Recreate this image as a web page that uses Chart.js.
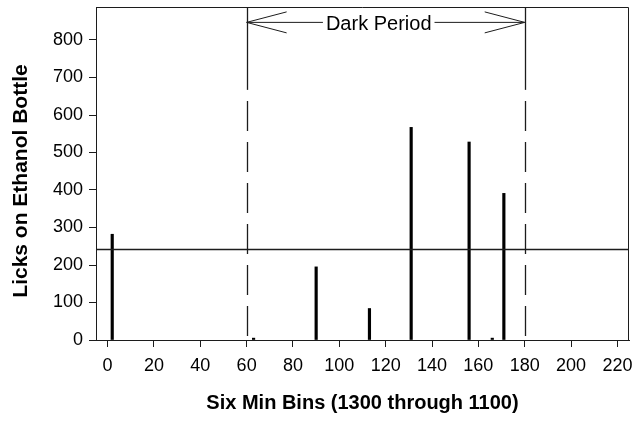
<!DOCTYPE html>
<html>
<head>
<meta charset="utf-8">
<script src="https://cdn.jsdelivr.net/npm/chart.js@4.4.1/dist/chart.umd.min.js"></script>
<style>
  html, body { margin: 0; padding: 0; background: #fff; }
  canvas { display: block; }
</style>
</head>
<body>
<canvas id="licks" width="643" height="423"></canvas>
<script>
// bins with ethanol licks; every other bin is zero
const bins = [2, 63, 90, 113, 131, 156, 166, 171];
const licks = [282, 5, 195, 84, 567, 528, 5, 391];

const xTicks = [0, 20, 40, 60, 80, 100, 120, 140, 160, 180, 200, 220];
const yTicks = [0, 100, 200, 300, 400, 500, 600, 700, 800];

// lights-off window and criterion line
const darkStart = 60;
const darkEnd = 180;
const criterion = 242;
const arrowLevel = 847;   // height of the "Dark Period" arrow
const solidTo = 667;      // boundary lines are solid above this, dashed below
const labelAt = 117;      // centre of the "Dark Period" text

const FONT = "'Liberation Sans', Arial, Helvetica, sans-serif";
const INK = '#1c1c1c';

const overlay = {
  id: 'overlay',
  afterDatasetsDraw(chart) {
    const { ctx, chartArea: a, scales: { x, y } } = chart;
    ctx.save();
    ctx.strokeStyle = INK;
    ctx.lineWidth = 1;

    // top and right edges of the frame
    ctx.beginPath();
    ctx.moveTo(a.left, a.top + 0.5);
    ctx.lineTo(a.right - 0.5, a.top + 0.5);
    ctx.lineTo(a.right - 0.5, a.bottom);
    ctx.stroke();

    // criterion line
    const yc = Math.round(y.getPixelForValue(criterion)) + 0.5;
    ctx.lineWidth = 1.3;
    ctx.beginPath();
    ctx.moveTo(a.left, yc);
    ctx.lineTo(a.right, yc);
    ctx.stroke();

    // dark period boundaries
    const ySolid = y.getPixelForValue(solidTo);
    [darkStart, darkEnd].forEach(v => {
      const px = Math.round(x.getPixelForValue(v)) + 0.5;
      ctx.setLineDash([]);
      ctx.beginPath();
      ctx.moveTo(px, a.top);
      ctx.lineTo(px, ySolid);
      ctx.stroke();
      ctx.setLineDash([30, 11]);
      ctx.lineDashOffset = 30;
      ctx.beginPath();
      ctx.moveTo(px, ySolid);
      ctx.lineTo(px, a.bottom);
      ctx.stroke();
    });
    ctx.setLineDash([]);

    // "Dark Period" double arrow
    const ya = y.getPixelForValue(arrowLevel);
    const x0 = x.getPixelForValue(darkStart);
    const x1 = x.getPixelForValue(darkEnd);
    const cx = x.getPixelForValue(labelAt);
    ctx.font = '20px ' + FONT;
    ctx.fillStyle = '#000';
    ctx.textAlign = 'center';
    ctx.textBaseline = 'middle';
    const w = ctx.measureText('Dark Period').width;
    ctx.fillText('Dark Period', cx, ya + 2);

    ctx.lineWidth = 1;
    ctx.beginPath();
    ctx.moveTo(x0, ya);
    ctx.lineTo(cx - w / 2 - 3, ya);
    ctx.moveTo(cx + w / 2 + 3, ya);
    ctx.lineTo(x1, ya);
    // open arrow heads
    ctx.moveTo(x0 + 40, ya - 10.5);
    ctx.lineTo(x0, ya);
    ctx.lineTo(x0 + 40, ya + 10.5);
    ctx.moveTo(x1 - 40, ya - 10.5);
    ctx.lineTo(x1, ya);
    ctx.lineTo(x1 - 40, ya + 10.5);
    ctx.stroke();

    // y axis title
    ctx.save();
    ctx.translate(21, 181);
    ctx.rotate(-Math.PI / 2);
    ctx.font = 'bold 21px ' + FONT;
    ctx.fillText('Licks on Ethanol Bottle', 0, 0);
    ctx.restore();

    ctx.restore();
  }
};

const axisGrid = {
  drawOnChartArea: false,
  drawTicks: true,
  tickLength: 7,
  tickColor: INK,
  offset: false
};

// keep edge tick labels from pushing the plot area inward
const noEdgePadding = s => {
  s.paddingTop = 0;
  s.paddingBottom = 0;
  s.paddingLeft = 0;
  s.paddingRight = 0;
};

new Chart(document.getElementById('licks'), {
  type: 'bar',
  data: {
    datasets: [{
      data: bins.map((b, i) => ({ x: b, y: licks[i] })),
      backgroundColor: '#000',
      borderWidth: 0,
      barThickness: 2.5,
      grouped: false
    }]
  },
  options: {
    responsive: false,
    animation: false,
    devicePixelRatio: 1,
    layout: { padding: { top: 7, right: 14, left: 0, bottom: 0 } },
    plugins: { legend: { display: false }, tooltip: { enabled: false } },
    scales: {
      x: {
        type: 'linear',
        min: -5,
        max: 225,
        offset: false,
        afterBuildTicks: s => { s.ticks = xTicks.map(v => ({ value: v })); },
        afterFit: s => { s.height = 83; noEdgePadding(s); },
        grid: axisGrid,
        border: { color: INK, width: 1 },
        ticks: {
          color: '#000',
          font: { family: FONT, size: 18 },
          padding: 8,
          maxRotation: 0,
          autoSkip: false
        },
        title: {
          display: true,
          text: 'Six Min Bins (1300 through 1100)',
          color: '#000',
          font: { family: FONT, size: 20, weight: 'bold' },
          padding: { top: 0, bottom: 8 }
        }
      },
      y: {
        type: 'linear',
        min: 0,
        max: 888,
        afterBuildTicks: s => { s.ticks = yTicks.map(v => ({ value: v })); },
        afterFit: s => { s.width = 96; noEdgePadding(s); },
        grid: axisGrid,
        border: { color: INK, width: 1 },
        ticks: {
          color: '#000',
          font: { family: FONT, size: 18 },
          padding: 6
        }
      }
    }
  },
  plugins: [overlay]
});
</script>
</body>
</html>
